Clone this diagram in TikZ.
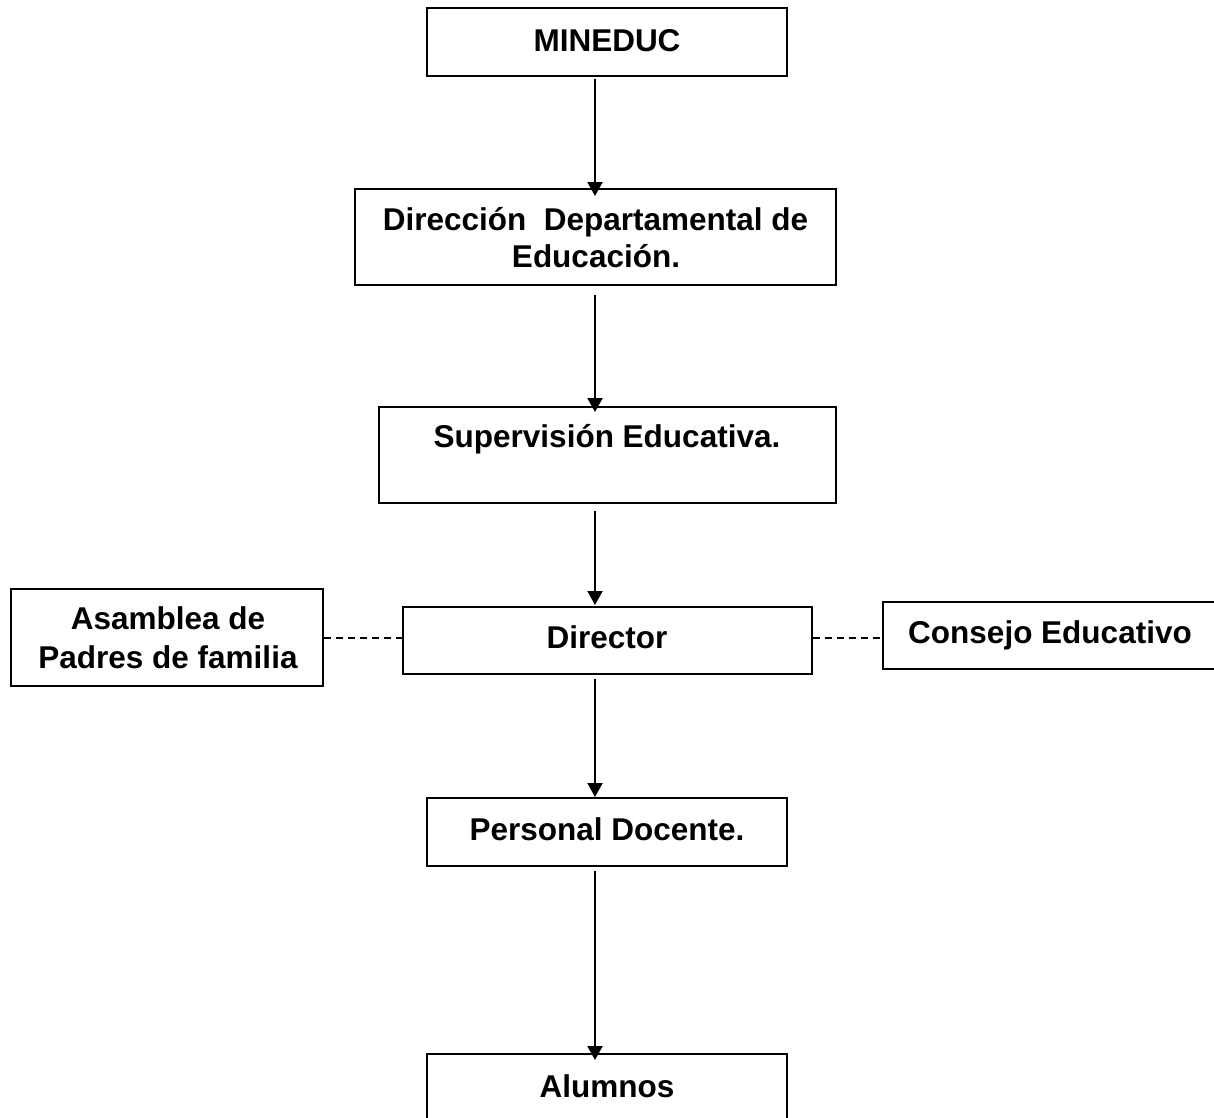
\documentclass[tikz,border=0pt]{standalone}
\usepackage{fontspec}
\setmainfont{Liberation Sans}
\usetikzlibrary{arrows.meta}
\tikzset{
  box/.style={draw=black, line width=2pt, rectangle, inner sep=0pt, fill=white},
  lbl/.style={anchor=base, inner sep=0pt, font=\fontsize{31.5}{37}\selectfont\bfseries},
  conn/.style={line width=2pt, -{Triangle[length=14pt,width=15pt]}},
  dash link/.style={line width=1.4pt, dash pattern=on 7pt off 5pt}
}
\begin{document}
\begin{tikzpicture}[x=1pt,y=-1pt]
\path[use as bounding box, clip] (0,0) rectangle (1214,1117);
\fill[white] (0,0) rectangle (1214,1117);
% boxes
\node[box, minimum width=360pt, minimum height=68pt] (mineduc) at (607,42) {};
\node[box, minimum width=481pt, minimum height=96pt] (direccion) at (595.5,237) {};
\node[box, minimum width=457pt, minimum height=96pt] (supervision) at (607.5,455) {};
\node[box, minimum width=409pt, minimum height=67pt] (director) at (607.5,640.5) {};
\node[box, minimum width=312pt, minimum height=97pt] (asamblea) at (167,637.5) {};
\node[box, minimum width=339pt, minimum height=67pt] (consejo) at (1052.5,635.5) {};
\node[box, minimum width=360pt, minimum height=68pt] (personal) at (607,832) {};
\node[box, minimum width=360pt, minimum height=71pt] (alumnos) at (607,1089.5) {};
% texts
\node[lbl] (tmineduc) at (607,51) {MINEDUC};
\node[lbl] (tdir1) at (595.5,230) {Dirección\ \ Departamental de};
\node[lbl] (tdir2) at (596,267) {Educación.};
\node[lbl] (tsup) at (607,447) {Supervisión Educativa.};
\node[lbl] (tdirector) at (607,648) {Director};
\node[lbl] (tasa1) at (168,629) {Asamblea de};
\node[lbl] (tasa2) at (168,668) {Padres de familia};
\node[lbl] (tcons) at (1050,643) {Consejo Educativo};
\node[lbl] (tpers) at (607,840) {Personal Docente.};
\node[lbl] (talum) at (607,1097) {Alumnos};
% connector helpers
\coordinate (ax) at (595,0);
\coordinate (dy) at (0,638);
\draw[conn, shorten <=2pt, shorten >=-8pt] (mineduc.south -| ax) -- (direccion.north -| ax);
\draw[conn, shorten <=9pt, shorten >=-6pt] (direccion.south -| ax) -- (supervision.north -| ax);
\draw[conn, shorten <=7pt, shorten >=1pt] (supervision.south -| ax) -- (director.north -| ax);
\draw[conn, shorten <=4pt, shorten >=0pt] (director.south -| ax) -- (personal.north -| ax);
\draw[conn, shorten <=4pt, shorten >=-7pt] (personal.south -| ax) -- (alumnos.north -| ax);
\draw[dash link] (asamblea.east |- dy) -- (director.west |- dy);
\draw[dash link] (director.east |- dy) -- (consejo.west |- dy);
\end{tikzpicture}
\end{document}
